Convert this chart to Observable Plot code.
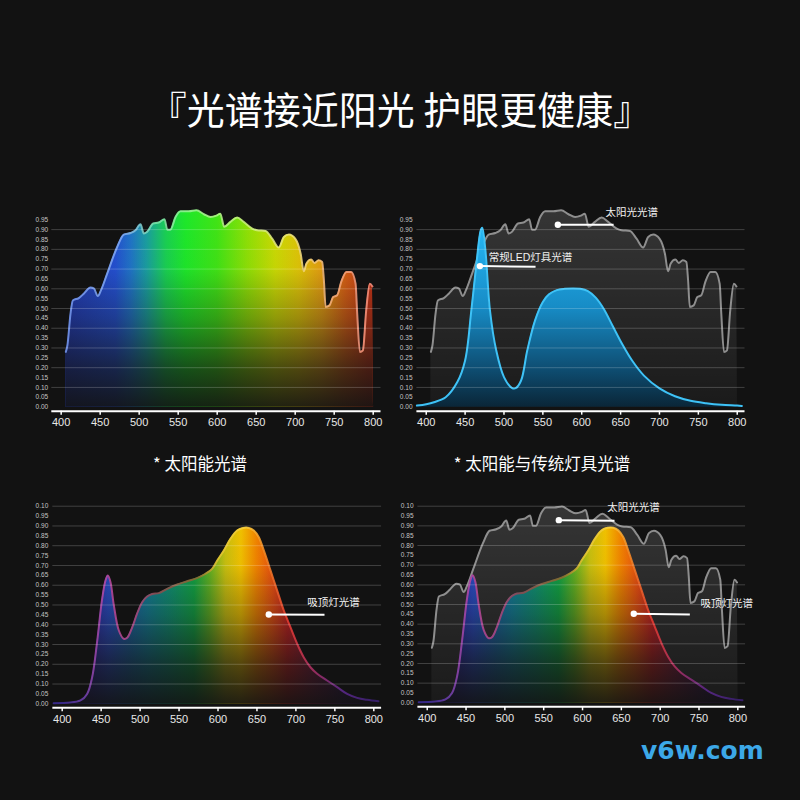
<!DOCTYPE html>
<html>
<head>
<meta charset="utf-8">
<script src="https://cdn.jsdelivr.net/npm/d3@7"></script>
<script src="https://cdn.jsdelivr.net/npm/@observablehq/plot@0.6"></script>
<style>
  html, body { margin: 0; padding: 0; }
  body { width: 800px; height: 800px; background: #121212; position: relative; overflow: hidden;
         font-family: "Noto Sans CJK SC", "Noto Sans", sans-serif; }
  .txt { position: absolute; color: #fff; white-space: nowrap; }
</style>
</head>
<body>
<div class="txt" id="title" style="top:88px;left:0;width:800px;text-align:center;font-size:38px;line-height:40px;">『光谱接近阳光 护眼更健康』</div>
<div class="txt" id="cap1" style="top:452px;left:100px;width:200px;text-align:center;font-size:16.5px;line-height:22px;">* 太阳能光谱</div>
<div class="txt" id="cap2" style="top:452px;left:392px;width:300px;text-align:center;font-size:16.5px;line-height:22px;">* 太阳能与传统灯具光谱</div>
<div class="txt" id="wm" style="top:735px;left:641px;font-family:'DejaVu Sans',sans-serif;font-weight:700;font-size:25px;line-height:32px;color:#3ca8e8;">v6w.com</div>
<script>
// ---------------- data ----------------
const wavelengthTicks = [400, 450, 500, 550, 600, 650, 700, 750, 800];

const yTicksTop = [0, 0.05, 0.10, 0.15, 0.20, 0.25, 0.30, 0.35, 0.40, 0.45, 0.50, 0.55, 0.60, 0.65, 0.70, 0.75, 0.80, 0.85, 0.90, 0.95];
const yLabelsTop = ["0.00","0.05","0.10","0.15","0.20","0.25","0.30","0.35","0.40","0.45","0.50","0.55","0.60","0.65","0.70","0.75","0.80","0.85","0.90","0.95"];
const yTicksBottom = [0, 0.05, 0.10, 0.15, 0.20, 0.25, 0.30, 0.35, 0.40, 0.45, 0.50, 0.55, 0.60, 0.65, 0.70, 0.75, 0.80, 0.85, 0.90, 0.95, 1.00];
const yLabelsBottom = ["0.00","0.05","0.10","0.15","0.20","0.25","0.30","0.35","0.40","0.45","0.50","0.55","0.60","0.65","0.70","0.75","0.80","0.85","0.90","0.95","0.10"];
const gridTop = [0.1, 0.2, 0.3, 0.4, 0.5, 0.6, 0.7, 0.8, 0.9];
const gridBottom = [0.1, 0.2, 0.3, 0.4, 0.5, 0.6, 0.7, 0.8, 0.9, 1.0];

// Solar spectrum
const sunWavelength = [406, 408, 412, 415, 422.6, 429, 437.6, 441.9, 447, 451, 459, 471.8, 480.3, 488.9, 495.3, 501.7, 506, 510, 518, 525, 532.5, 536, 540, 546.6, 553, 563.7, 573.5, 583, 591.5, 599, 604, 609, 617, 625.6, 634, 645, 651, 662, 670.5, 679, 685.5, 692, 700, 707, 711, 714.5, 720.5, 724.8, 730, 734.6, 736.8, 739, 744, 748.7, 753.8, 759, 765.8, 771.8, 777.4, 779.5, 783, 786.8, 791, 795.7, 799, 800.5];
const sunIntensity = [0.28, 0.313, 0.474, 0.541, 0.553, 0.575, 0.606, 0.602, 0.563, 0.592, 0.677, 0.812, 0.875, 0.883, 0.897, 0.927, 0.88, 0.888, 0.931, 0.936, 0.953, 0.90, 0.90, 0.964, 0.993, 0.993, 0.998, 0.978, 0.964, 0.971, 0.981, 0.914, 0.939, 0.961, 0.939, 0.905, 0.897, 0.893, 0.854, 0.809, 0.863, 0.875, 0.854, 0.778, 0.689, 0.728, 0.748, 0.731, 0.745, 0.736, 0.643, 0.508, 0.516, 0.558, 0.567, 0.635, 0.685, 0.685, 0.626, 0.474, 0.279, 0.288, 0.49, 0.626, 0.612, 0];

// Conventional LED spectrum
const ledWavelength = [388, 400, 410, 425, 440, 450, 458, 465, 470, 472, 476, 482, 490, 500, 510, 515, 522, 530, 540, 550, 558, 568, 578, 588, 598, 608, 618, 628, 640, 652, 665, 680, 700, 720, 740, 760, 780, 800, 806];
const ledIntensity = [0.008, 0.015, 0.025, 0.05, 0.127, 0.237, 0.49, 0.744, 0.895, 0.91, 0.80, 0.49, 0.288, 0.152, 0.098, 0.096, 0.135, 0.288, 0.44, 0.533, 0.572, 0.593, 0.600, 0.602, 0.600, 0.588, 0.555, 0.50, 0.41, 0.32, 0.235, 0.16, 0.095, 0.055, 0.032, 0.02, 0.012, 0.008, 0.006];

// Ceiling lamp spectrum
const lampWavelength = [389, 423.5, 432, 438.5, 445, 451, 455.6, 458.6, 462, 466, 472.7, 479, 483.4, 490, 496, 502.7, 509, 515.5, 524, 534.8, 547.6, 560.4, 573, 584, 592.5, 599, 607.5, 616, 624.6, 632.3, 639.6, 646, 652.4, 658.8, 667.4, 676, 684.5, 693, 701.6, 710, 718.7, 727.3, 740, 753, 765.8, 778.6, 791.4, 806];
const lampIntensity = [0.003, 0.017, 0.05, 0.135, 0.32, 0.523, 0.624, 0.649, 0.615, 0.506, 0.371, 0.329, 0.334, 0.388, 0.455, 0.514, 0.543, 0.556, 0.56, 0.582, 0.604, 0.62, 0.636, 0.658, 0.683, 0.725, 0.776, 0.835, 0.877, 0.89, 0.89, 0.877, 0.843, 0.776, 0.675, 0.573, 0.472, 0.388, 0.304, 0.236, 0.185, 0.152, 0.118, 0.084, 0.05, 0.03, 0.02, 0.013];

// Annotation labels: text position, dot position, leader end
const labelText = ["太阳光光谱", "常规LED灯具光谱", "吸顶灯光谱"];
const p2Labels = [
  {text: labelText[0], tx: 630.6, ty: 0.987, px: 569.3, py: 0.925, ex: 641, ey: 0.925},
  {text: labelText[1], tx: 480.5, ty: 0.76, px: 469, py: 0.715, ex: 540.6, ey: 0.712}
];
const p3Labels = [
  {text: labelText[2], tx: 714.5, ty: 0.514, px: 665.2, py: 0.452, ex: 736.7, ey: 0.45}
];
const p4Labels = [
  {text: labelText[0], tx: 631.8, ty: 0.992, px: 569.5, py: 0.929, ex: 641.2, ey: 0.926},
  {text: labelText[2], tx: 752, ty: 0.507, px: 666, py: 0.453, ex: 738.2, ey: 0.449}
];

// ---------------- styles ----------------
const BG = "#121212";
const sunFillStops = [[400,"#2238b0"],[470,"#2450d0"],[490,"#2074c6"],[510,"#1a9ea0"],[535,"#1ad052"],[560,"#1ee82a"],[600,"#40e416"],[640,"#90e006"],[675,"#cada04"],[705,"#dec408"],[735,"#e29c12"],[765,"#d86014"],[795,"#c43416"]];
const sunStrokeStops = [[400,"#6f8fe6"],[480,"#80a8f0"],[520,"#78e0a8"],[560,"#94f094"],[640,"#c8f078"],[700,"#f0e078"],[750,"#f0a878"],[800,"#f08878"]];
const lampFillStops = [[400,"#2a1a70"],[440,"#3030b0"],[460,"#2a4cc4"],[490,"#1a6aa6"],[510,"#137f98"],[540,"#109272"],[570,"#12a444"],[590,"#62b222"],[610,"#c8c010"],[630,"#f2c200"],[650,"#f28400"],[670,"#ea5210"],[690,"#d22222"],[720,"#902044"],[760,"#401860"],[800,"#201040"]];
const lampStrokeStops = [[400,"#3a2a90"],[430,"#7040a8"],[455,"#b448a0"],[490,"#a84480"],[520,"#8a4a50"],[575,"#8a6a30"],[600,"#e0c030"],[635,"#f8d040"],[660,"#f48a24"],[690,"#e43a30"],[720,"#a83060"],[760,"#5a2888"],[800,"#3a2070"]];
const fadeStops = [[0,0],[0.3,0.03],[0.55,0.32],[0.8,0.7],[1,0.92]];
const grayFillStops = [[0,0.15],[1,0.035]];
const ledFillStops = [[0,"#26b8f6"],[0.45,"#178cc6"],[0.8,"#0e4c70"],[1,"#0a2638"]];

const rowsOf = (xs, vs) => xs.map((nm, i) => ({nm, v: vs[i]}));
const sunRows = rowsOf(sunWavelength, sunIntensity);
const ledRows = rowsOf(ledWavelength, ledIntensity);
const lampRows = rowsOf(lampWavelength, lampIntensity);

function hGrad(defs, id, stops, x) {
  const g = defs.append("linearGradient").attr("id", id).attr("gradientUnits", "userSpaceOnUse")
    .attr("x1", x(400)).attr("x2", x(800)).attr("y1", 0).attr("y2", 0);
  for (const [nm, c] of stops) g.append("stop").attr("offset", (nm - 400) / 400).attr("stop-color", c);
}
function vGrad(defs, id, stops, y, top) {
  const g = defs.append("linearGradient").attr("id", id).attr("gradientUnits", "userSpaceOnUse")
    .attr("x1", 0).attr("x2", 0).attr("y1", y(top)).attr("y2", y(0));
  for (const [o, c, a] of stops) g.append("stop").attr("offset", o).attr("stop-color", c).attr("stop-opacity", a ?? 1);
}
function defsMark(p) {
  return (index, scales) => {
    const defs = d3.create("svg:defs");
    const {x, y} = scales;
    hGrad(defs, p + "fill", p === "p1" ? sunFillStops : lampFillStops, x);
    hGrad(defs, p + "stroke", p === "p1" ? sunStrokeStops : lampStrokeStops, x);
    vGrad(defs, p + "fade", fadeStops.map(([o, a]) => [o, BG, a]), y, 1.0);
    vGrad(defs, p + "gray", grayFillStops.map(([o, a]) => [o, "#ffffff", a]), y, 1.0);
    vGrad(defs, p + "led", ledFillStops.map(([o, c]) => [o, c, 1]), y, 0.92);
    return defs.node();
  };
}

const sunGrayLayer = (p) => [
  Plot.areaY(sunRows, {x: "nm", y: "v", curve: "monotone-x", fill: `url(#${p}gray)`}),
  Plot.line(sunRows, {filter: d => d.v > 0, x: "nm", y: "v", curve: "monotone-x", stroke: "#8e8e8e", strokeWidth: 2})
];
const rainbowLayer = (p, rows, curve) => [
  Plot.areaY(rows, {x: "nm", y: "v", curve, fill: `url(#${p}fill)`}),
  Plot.areaY(rows, {x: "nm", y: "v", curve, fill: `url(#${p}fade)`}),
  Plot.line(rows, {filter: d => d.v > 0, x: "nm", y: "v", curve, stroke: `url(#${p}stroke)`, strokeWidth: 2, strokeOpacity: 0.9})
];
const ledLayer = (p) => [
  Plot.areaY(ledRows, {x: "nm", y: "v", curve: "catmull-rom", fill: `url(#${p}led)`}),
  Plot.line(ledRows, {x: "nm", y: "v", curve: "catmull-rom", stroke: "#3ec2f6", strokeWidth: 2})
];
const labelLayer = (labels) => labels.length ? [
  Plot.link(labels, {x1: "px", y1: "py", x2: "ex", y2: "ey", stroke: "#fff", strokeWidth: 2}),
  Plot.dot(labels, {x: "px", y: "py", r: 3.2, fill: "#fff"}),
  Plot.text(labels, {x: "tx", y: "ty", text: "text", textAnchor: "start", lineAnchor: "middle", fontSize: 10.5, fill: "#f2f2f2"})
] : [];

function panel({p, left, top, mL, mR, mT, mB, pad, yTicks, yLabels, grid, layers, labels}) {
  const yMin = -0.0203;
  const labelMap = new Map(yTicks.map((t, i) => [Math.round(t * 100), yLabels[i]]));
  const svg = Plot.plot({
    width: 380, height: 245,
    marginLeft: mL, marginRight: mR, marginTop: mT, marginBottom: mB,
    x: {domain: [388, 810]},
    y: {domain: [yMin, 1.0]},
    style: {background: "transparent", overflow: "visible", fontFamily: "'Liberation Sans', 'Noto Sans CJK SC', sans-serif"},
    marks: [
      defsMark(p),
      ...layers,
      Plot.ruleY(grid, {stroke: "#ffffff", strokeOpacity: 0.2, strokeWidth: 1}),
      Plot.ruleY([yMin], {stroke: "#ffffff", strokeWidth: 2}),
      Plot.axisX({ticks: wavelengthTicks, tickSize: 4, tickPadding: 3, stroke: "#ffffff", strokeWidth: 1.5, fill: "#e8e8e8", fontSize: 11, label: null}),
      Plot.axisY({ticks: yTicks, tickFormat: d => labelMap.get(Math.round(d * 100)), tickSize: 0, tickPadding: pad, fill: "#c4c4c4", fontSize: 6.5, label: null}),
      ...labelLayer(labels)
    ]
  });
  svg.style.position = "absolute";
  svg.style.left = left + "px";
  svg.style.top = top + "px";
  document.body.append(svg);
}

panel({p: "p1", left: 15, top: 198, mL: 36.3, mR: 14.5, mT: 11.4, mB: 32.35, pad: 3.6,
  yTicks: yTicksTop, yLabels: yLabelsTop, grid: gridTop,
  layers: rainbowLayer("p1", sunRows, "monotone-x"), labels: []});
panel({p: "p2", left: 385, top: 198, mL: 31.4, mR: 20.5, mT: 11.4, mB: 32.35, pad: 4.4,
  yTicks: yTicksTop, yLabels: yLabelsTop, grid: gridTop,
  layers: [...sunGrayLayer("p2"), ...ledLayer("p2")], labels: p2Labels});
panel({p: "p3", left: 15, top: 490, mL: 37.35, mR: 13.9, mT: 15.7, mB: 27.7, pad: 4.6,
  yTicks: yTicksBottom, yLabels: yLabelsBottom, grid: gridBottom,
  layers: rainbowLayer("p3", lampRows, "catmull-rom"), labels: p3Labels});
panel({p: "p4", left: 385, top: 490, mL: 32.4, mR: 19.9, mT: 15.7, mB: 28.7, pad: 4.4,
  yTicks: yTicksBottom, yLabels: yLabelsBottom, grid: gridBottom,
  layers: [...sunGrayLayer("p4"), ...rainbowLayer("p4", lampRows, "catmull-rom")], labels: p4Labels});
</script>
</body>
</html>
